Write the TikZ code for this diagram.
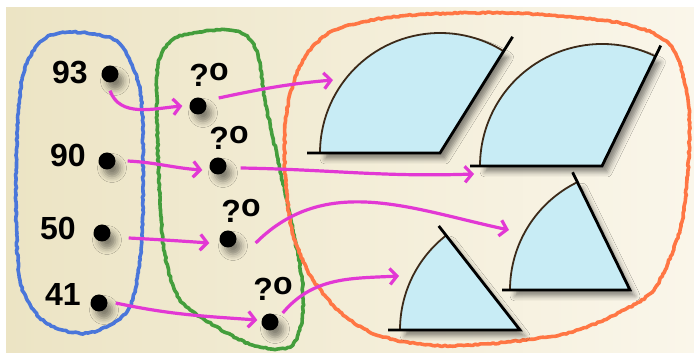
\documentclass[tikz,border=0pt]{standalone}
\usepackage{fontspec}
\setmainfont{Liberation Sans}
\usetikzlibrary{arrows.meta,shadows.blur,decorations.pathmorphing}

\definecolor{paperL}{RGB}{236,228,196}
\definecolor{paperR}{RGB}{250,246,234}
\definecolor{crayonpink}{RGB}{226,56,212}
\definecolor{crayonblue}{RGB}{74,118,218}
\definecolor{crayongreen}{RGB}{68,158,60}
\definecolor{crayonorange}{RGB}{255,118,68}
\definecolor{wedgeblue}{RGB}{200,236,245}
\definecolor{rimbrown}{RGB}{60,42,25}

\newcommand{\qdeg}{?\raisebox{6.5pt}{o}}

\begin{document}
\begin{tikzpicture}[x=1pt, y=1pt,
    num/.style={font=\fontsize{32}{33}\selectfont\bfseries, inner sep=0pt},
    dot/.style={circle, fill=black, minimum size=17pt, inner sep=0pt,
        blur shadow={shadow xshift=5pt, shadow yshift=-7pt, shadow blur radius=6pt, shadow opacity=45}},
    crayon/.style={line width=3.6pt, line join=round, decorate,
        decoration={random steps, segment length=2.5pt, amplitude=0.7pt}},
    jump/.style={draw=crayonpink, line width=3.2pt, -{Straight Barb[length=7pt, width=16pt]}},
    wedge/.style={fill=wedgeblue,
        blur shadow={shadow xshift=5pt, shadow yshift=-6pt, shadow blur radius=5pt, shadow opacity=45}},
    rim/.style={draw=rimbrown, line width=1.8pt},
    leg/.style={draw=black, line width=2.8pt}]

    % ========== background ==========
    \useasboundingbox (0,0) rectangle (694,353);
    \shade[left color=paperL, right color=paperR] (6,0) rectangle (694,345);

    % ========== crayon loops ==========
    \draw[crayon, crayonblue] plot[smooth cycle] coordinates {
        (70,321) (118,311) (140,263) (143,183) (141,103) (128,43)
        (88,20) (45,31) (20,73) (16,183) (22,273) (40,311)};
    \draw[crayon, crayongreen] plot[smooth cycle] coordinates {
        (220,323) (245,318) (258,298) (265,253) (278,193) (293,123)
        (302,73) (302,33) (290,6) (255,7) (215,27) (180,53)
        (165,98) (160,153) (157,233) (158,288) (175,315)};
    \draw[crayon, crayonorange] plot[smooth cycle] coordinates {
        (400,337) (510,340) (620,330) (670,308) (688,253) (688,183)
        (680,123) (655,65) (620,41) (560,18) (450,7) (380,17)
        (340,41) (310,78) (292,123) (285,183) (287,243) (303,293) (335,323)};

    % ========== sectors ==========
    % top left
    \fill[wedge] (440,200) -- ++(58:120) arc[start angle=58, end angle=180, radius=120] -- cycle;
    \draw[rim] (440,200) ++(58:120) arc[start angle=58, end angle=180, radius=120];
    \draw[leg] (307,200) -- (440,200) -- ++(58:137);
    % top right
    \fill[wedge] (602,187) -- ++(64:122) arc[start angle=64, end angle=180, radius=122] -- cycle;
    \draw[rim] (602,187) ++(64:122) arc[start angle=64, end angle=180, radius=122];
    \draw[leg] (470,187) -- (602,187) -- ++(64:134);
    % middle right
    \fill[wedge] (630,63) -- ++(116:120) arc[start angle=116, end angle=180, radius=120] -- cycle;
    \draw[rim] (630,63) ++(116:120) arc[start angle=116, end angle=180, radius=120];
    \draw[leg] (502,63) -- (630,63) -- ++(116:131);
    % bottom
    \fill[wedge] (520,23) -- ++(128:120) arc[start angle=128, end angle=180, radius=120] -- cycle;
    \draw[rim] (520,23) ++(128:120) arc[start angle=128, end angle=180, radius=120];
    \draw[leg] (388,23) -- (520,23) -- ++(128:132);

    \coordinate (s1in) at (333,273);
    \coordinate (s2in) at (474,179);
    \coordinate (s3in) at (509,123);
    \coordinate (s4in) at (399,77);

    % ========== numbers ==========
    \node[num] (n93) at (70,280) {93};
    \node[num] (n90) at (68,198) {90};
    \node[num] (n50) at (58,125) {50};
    \node[num] (n41) at (63,59) {41};
    \node[dot] (d93) at (110,279) {};
    \node[dot] (d90) at (107,192) {};
    \node[dot] (d50) at (102,120) {};
    \node[dot] (d41) at (99,50) {};

    % ========== unknown angles ==========
    \node[num] (t1) at (209,278) {\qdeg};
    \node[num] (t2) at (229,215) {\qdeg};
    \node[num] (t3) at (241,142) {\qdeg};
    \node[num] (t4) at (273,64) {\qdeg};
    \node[dot] (q1) at (198,247) {};
    \node[dot] (q2) at (218,187) {};
    \node[dot] (q3) at (228,114) {};
    \node[dot] (q4) at (270,31) {};

    % ========== arrows ==========
    \draw[jump] ([yshift=-8pt]d93.south) to[out=-70, in=185] ([xshift=-7pt]q1.west);
    \draw[jump] ([xshift=12pt]d90.east) to[out=-3, in=176] ([xshift=-7pt, yshift=-4pt]q2.west);
    \draw[jump] ([xshift=18pt, yshift=-5pt]d50.east) to[out=-3, in=176] ([xshift=-10pt, yshift=-4pt]q3.west);
    \draw[jump] ([xshift=8pt]d41.east) to[out=-12, in=176] ([xshift=-4pt, yshift=2pt]q4.west);

    \draw[jump] ([xshift=12pt, yshift=8pt]q1.east) to[out=12, in=185] (s1in);
    \draw[jump] ([xshift=14pt, yshift=-2pt]q2.east) to[out=-1, in=182] (s2in);
    \draw[jump] ([xshift=19pt, yshift=-4pt]q3.east) to[out=45, in=168] (s3in);
    \draw[jump] ([xshift=4pt, yshift=9pt]q4.east) to[out=50, in=183] (s4in);
\end{tikzpicture}
\end{document}
